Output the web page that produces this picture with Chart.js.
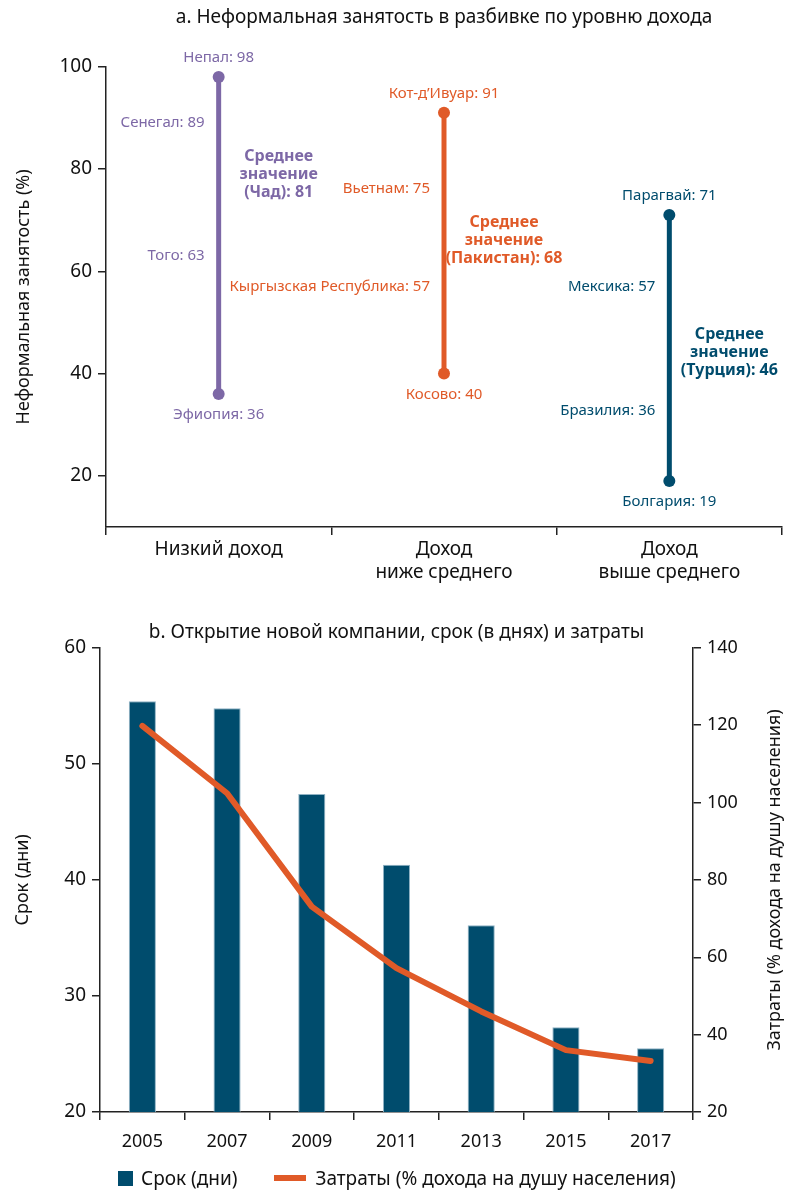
<!DOCTYPE html>
<html lang="ru">
<head>
<meta charset="utf-8">
<title>Неформальная занятость и открытие компании</title>
<script src="https://cdn.jsdelivr.net/npm/chart.js@4.4.1/dist/chart.umd.min.js"></script>
<style>
  body { margin: 0; background: #fff; }
  #wrap { position: relative; width: 788px; height: 1190px; }
  #chartA { position: absolute; left: 0; top: 0; }
  #chartB { position: absolute; left: 0; top: 600px; }
  #legendB {
    position: absolute; top: 1165px; left: 118px;
    display: flex; align-items: center;
    font: 19px "Noto Sans", sans-serif; color: #111;
  }
  #legendB .box { width: 15px; height: 15px; background: #004c6d; margin-right: 8px; }
  #legendB .ln { width: 32px; height: 6px; background: #e05a28; margin: 0 9px 0 37px; }
</style>
</head>
<body>
<div id="wrap">
  <canvas id="chartA" width="788" height="600"></canvas>
  <canvas id="chartB" width="788" height="590"></canvas>
  <div id="legendB">
    <span class="box"></span><span>Срок (дни)</span>
    <span class="ln"></span><span>Затраты (% дохода на душу населения)</span>
  </div>
</div>
<script>
// --- a. неформальная занятость ---
const incomeGroups = ['Низкий доход', 'Доход ниже среднего', 'Доход выше среднего'];
const incomeGroupLines = [['Низкий доход'], ['Доход', 'ниже среднего'], ['Доход', 'выше среднего']];
const maxCountries = ['Непал', 'Кот-д’Ивуар', 'Парагвай'];
const maxValues = [98, 91, 71];
const minCountries = ['Эфиопия', 'Косово', 'Болгария'];
const minValues = [36, 40, 19];
const meanCountries = ['Чад', 'Пакистан', 'Турция'];
const meanValues = [81, 68, 46];
const otherCountries = [['Сенегал', 'Того'], ['Вьетнам', 'Кыргызская Республика'], ['Мексика', 'Бразилия']];
const otherValues = [[89, 63], [75, 57], [57, 36]];
const yTicksA = [20, 40, 60, 80, 100];

// --- b. открытие новой компании ---
const years = ['2005', '2007', '2009', '2011', '2013', '2015', '2017'];
const daysValues = [55.4, 54.8, 47.4, 41.3, 36.1, 27.3, 25.5];
const costValues = [119.8, 102.4, 73.1, 57.2, 46.0, 36.0, 33.2];

const FONT = '"Noto Sans", "Open Sans", sans-serif';
const groupColors = ['#7d68a6', '#e05a28', '#004c6d'];
const axisColor = '#222';
// сдвиг подписей по вертикали (px), чтобы не наезжали
const otherLabelShift = [[0, 0], [-6, 0], [0, 17]];

Chart.defaults.font.family = FONT;
Chart.defaults.color = '#111';

const countryLabels = {
  id: 'countryLabels',
  afterDatasetsDraw(chart) {
    const { ctx, scales: { x, y } } = chart;
    ctx.save();
    ctx.textBaseline = 'middle';
    incomeGroups.forEach((g, i) => {
      const px = x.getPixelForValue(i);
      ctx.fillStyle = groupColors[i];
      ctx.font = '15px ' + FONT;
      ctx.textAlign = 'center';
      ctx.fillText(maxCountries[i] + ': ' + maxValues[i], px, y.getPixelForValue(maxValues[i]) - 19);
      ctx.fillText(minCountries[i] + ': ' + minValues[i], px, y.getPixelForValue(minValues[i]) + 21);
      ctx.textAlign = 'right';
      otherCountries[i].forEach((c, j) => {
        const v = otherValues[i][j];
        ctx.fillText(c + ': ' + v, px - 14, y.getPixelForValue(v) + otherLabelShift[i][j]);
      });
      ctx.font = 'bold 16px ' + FONT;
      ctx.textAlign = 'center';
      const my = y.getPixelForValue(meanValues[i]) + 10;
      const lines = ['Среднее', 'значение', '(' + meanCountries[i] + '): ' + meanValues[i]];
      lines.forEach((t, k) => ctx.fillText(t, px + 60, my + (k - 1) * 18));
    });
    ctx.restore();
  }
};

new Chart(document.getElementById('chartA'), {
  type: 'line',
  data: {
    labels: incomeGroups,
    datasets: incomeGroups.map((g, i) => ({
      label: g,
      data: [{ x: g, y: maxValues[i] }, { x: g, y: minValues[i] }],
      borderColor: groupColors[i],
      backgroundColor: groupColors[i],
      borderWidth: 5,
      pointRadius: 6,
      pointHoverRadius: 6,
      pointBorderWidth: 0
    }))
  },
  options: {
    responsive: false,
    animation: false,
    events: [],
    plugins: {
      legend: { display: false },
      tooltip: { enabled: false },
      title: {
        display: true,
        fullSize: false,
        text: 'a. Неформальная занятость в разбивке по уровню дохода',
        color: '#111',
        font: { size: 19, weight: 'normal' },
        padding: { top: 6, bottom: 38 }
      }
    },
    scales: {
      x: {
        type: 'category',
        offset: true,
        grid: { offset: true, drawOnChartArea: false, tickLength: 8, color: axisColor, lineWidth: 1.5 },
        border: { color: axisColor, width: 1.5 },
        ticks: { font: { size: 19 }, padding: 3, maxRotation: 0, callback: (v, i) => incomeGroupLines[i] },
        afterFit: s => { s.height = 73; }
      },
      y: {
        min: 10,
        max: 100,
        afterBuildTicks: s => { s.ticks = yTicksA.map(v => ({ value: v })); },
        grid: { drawOnChartArea: false, tickLength: 8, color: axisColor, lineWidth: 1.5 },
        border: { color: axisColor, width: 1.5 },
        ticks: { font: { size: 19 }, padding: 6 },
        title: { display: true, text: 'Неформальная занятость (%)', font: { size: 18 }, padding: { top: 13, bottom: 0 } },
        afterFit: s => { s.width = 106; }
      }
    }
  },
  plugins: [countryLabels]
});

// правая подпись оси читается снизу вверх, как левая
const rightTitle = {
  id: 'rightTitle',
  afterDraw(chart) {
    const { ctx, chartArea } = chart;
    ctx.save();
    ctx.translate(775, (chartArea.top + chartArea.bottom) / 2);
    ctx.rotate(-Math.PI / 2);
    ctx.font = '18px ' + FONT;
    ctx.fillStyle = '#111';
    ctx.textAlign = 'center';
    ctx.textBaseline = 'middle';
    ctx.fillText('Затраты (% дохода на душу населения)', 0, 0);
    ctx.restore();
  }
};

new Chart(document.getElementById('chartB'), {
  data: {
    labels: years,
    datasets: [
      {
        type: 'line',
        label: 'Затраты (% дохода на душу населения)',
        data: costValues,
        yAxisID: 'y1',
        borderColor: '#e05a28',
        borderWidth: 6,
        borderCapStyle: 'round',
        borderJoinStyle: 'round',
        pointRadius: 0,
        tension: 0,
        order: 0
      },
      {
        type: 'bar',
        label: 'Срок (дни)',
        data: daysValues,
        yAxisID: 'y',
        backgroundColor: '#004c6d',
        borderColor: '#8fb2c4',
        borderWidth: 1,
        barPercentage: 0.32,
        categoryPercentage: 1,
        order: 1
      }
    ]
  },
  options: {
    responsive: false,
    animation: false,
    events: [],
    plugins: {
      legend: { display: false },
      tooltip: { enabled: false },
      title: {
        display: true,
        fullSize: false,
        text: 'b. Открытие новой компании, срок (в днях) и затраты',
        color: '#111',
        font: { size: 19, weight: 'normal' },
        padding: { top: 21, bottom: 4 }
      }
    },
    scales: {
      x: {
        offset: true,
        grid: { offset: true, drawOnChartArea: false, tickLength: 8, color: axisColor, lineWidth: 1.5 },
        border: { color: axisColor, width: 1.5 },
        ticks: { font: { size: 18 }, padding: 11, maxRotation: 0 },
        afterFit: s => { s.height = 78; }
      },
      y: {
        position: 'left',
        min: 20,
        max: 60,
        ticks: { stepSize: 10, font: { size: 19 }, padding: 6 },
        grid: { drawOnChartArea: false, tickLength: 8, color: axisColor, lineWidth: 1.5 },
        border: { color: axisColor, width: 1.5 },
        title: { display: true, text: 'Срок (дни)', font: { size: 18 }, padding: { top: 12, bottom: 0 } },
        afterFit: s => { s.width = 100; }
      },
      y1: {
        position: 'right',
        min: 20,
        max: 140,
        ticks: { stepSize: 20, font: { size: 18 }, padding: 6 },
        grid: { drawOnChartArea: false, tickLength: 8, color: axisColor, lineWidth: 1.5 },
        border: { color: axisColor, width: 1.5 },
        afterFit: s => { s.width = 95; }
      }
    }
  },
  plugins: [rightTitle]
});
</script>
</body>
</html>
